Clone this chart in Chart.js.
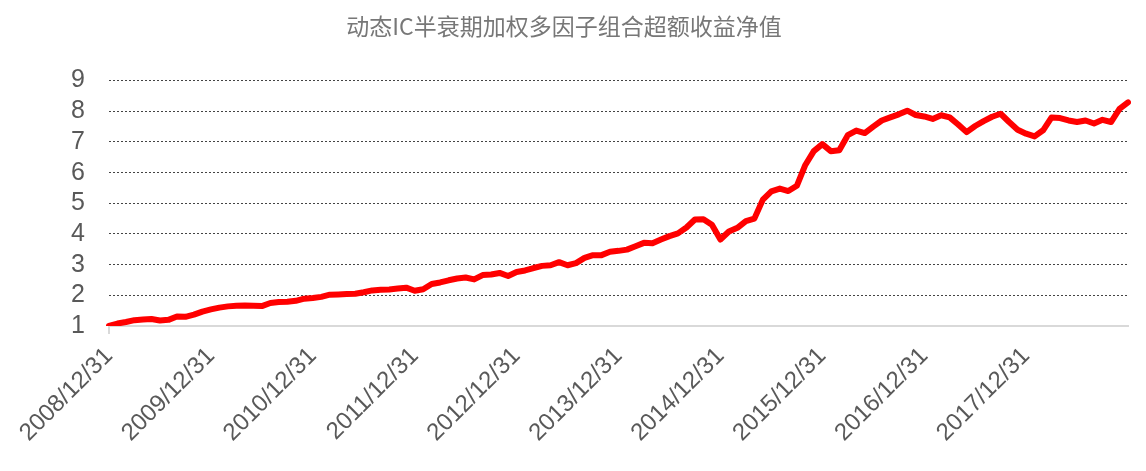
<!DOCTYPE html>
<html>
<head>
<meta charset="utf-8">
<script src="https://cdn.jsdelivr.net/npm/chart.js@4"></script>
<style>
  html, body { margin: 0; padding: 0; background: #fff; }
  #wrap { width: 1146px; height: 471px; }
</style>
</head>
<body>
<div id="wrap"><canvas id="nav"></canvas></div>
<script>
// 月末日期 2008/12/31 ~ 2018/12/31
var months = [];
for (var y = 2008, m = 11; y < 2019; m++) {
    if (m > 11) { m = 0; y++; }
    if (y > 2018) break;
    var d = new Date(y, m + 1, 0);
    months.push(d.getFullYear() + '/' + (d.getMonth() + 1) + '/' + d.getDate());
}

// 超额收益净值
var navValues = [
    1.00, 1.08, 1.13, 1.19, 1.21, 1.23, 1.18, 1.20, 1.31, 1.30,
    1.37, 1.47, 1.54, 1.60, 1.64, 1.66, 1.67, 1.66, 1.65, 1.75,
    1.78, 1.79, 1.82, 1.89, 1.91, 1.95, 2.02, 2.03, 2.04, 2.05,
    2.10, 2.16, 2.18, 2.19, 2.22, 2.25, 2.15, 2.20, 2.37, 2.42,
    2.49, 2.55, 2.58, 2.52, 2.66, 2.68, 2.73, 2.63, 2.76, 2.81,
    2.89, 2.96, 2.98, 3.08, 2.98, 3.05, 3.22, 3.31, 3.31, 3.42,
    3.45, 3.49, 3.60, 3.71, 3.70, 3.82, 3.93, 4.02, 4.21, 4.47,
    4.48, 4.30, 3.82, 4.08, 4.20, 4.42, 4.50, 5.12, 5.39, 5.48,
    5.40, 5.57, 6.25, 6.70, 6.93, 6.70, 6.73, 7.22, 7.37, 7.29,
    7.50, 7.70, 7.80, 7.90, 8.02, 7.88, 7.83, 7.75, 7.87, 7.80,
    7.57, 7.32, 7.52, 7.68, 7.82, 7.92, 7.65, 7.40, 7.27, 7.18,
    7.38, 7.80, 7.78, 7.70, 7.65, 7.70, 7.60, 7.72, 7.65, 8.08,
    8.29
];

var yTicks = [1, 2, 3, 4, 5, 6, 7, 8, 9];

// 年末のみラベル表示（最後の点は除く）
var showTick = function(i) {
    return i % 12 === 0 && i < months.length - 1;
};

var ctx = document.getElementById('nav').getContext('2d');
var navChart = new Chart(ctx, {
    type: 'line',
    data: {
        labels: months,
        datasets: [{
            data: navValues,
            borderColor: '#ff0000',
            borderWidth: 6,
            borderJoinStyle: 'round',
            borderCapStyle: 'round',
            pointRadius: 0,
            tension: 0,
            fill: false
        }]
    },
    options: {
        responsive: true,
        maintainAspectRatio: false,
        animation: false,
        layout: { padding: { left: 0, right: 18, top: 0, bottom: 0 } },
        plugins: {
            legend: { display: false },
            tooltip: { enabled: false },
            title: {
                display: true,
                text: '动态IC半衰期加权多因子组合超额收益净值',
                color: '#777777',
                font: { family: '"Noto Sans CJK SC", sans-serif', size: 23, weight: 'normal' },
                padding: { top: 12, bottom: 41 }
            }
        },
        scales: {
            x: {
                offset: false,
                border: { display: true, color: '#d9d9d9', width: 2 },
                grid: {
                    drawOnChartArea: false,
                    drawTicks: true,
                    tickLength: 8,
                    lineWidth: 2,
                    color: function(c) {
                        return showTick(c.index) ? '#d9d9d9' : 'rgba(0,0,0,0)';
                    }
                },
                ticks: {
                    autoSkip: false,
                    maxRotation: 45,
                    minRotation: 45,
                    padding: 8,
                    color: '#595959',
                    font: { family: '"Liberation Sans", Arial, sans-serif', size: 24 },
                    callback: function(v, i) {
                        return showTick(i) ? months[i] : null;
                    }
                },
                afterFit: function(scale) { scale.height = 145; }
            },
            y: {
                min: 1,
                max: 9,
                border: { display: false, dash: [2, 2] },
                grid: {
                    drawTicks: false,
                    lineWidth: 1,
                    color: function(c) {
                        return c.tick.value === yTicks[0] ? 'rgba(0,0,0,0)' : '#444';
                    }
                },
                afterBuildTicks: function(scale) {
                    scale.ticks = yTicks.map(function(v) { return { value: v }; });
                },
                ticks: {
                    autoSkip: false,
                    padding: 24,
                    color: '#595959',
                    font: { family: '"Liberation Sans", Arial, sans-serif', size: 25 }
                },
                afterFit: function(scale) { scale.width = 109; }
            }
        }
    }
});
</script>
</body>
</html>
